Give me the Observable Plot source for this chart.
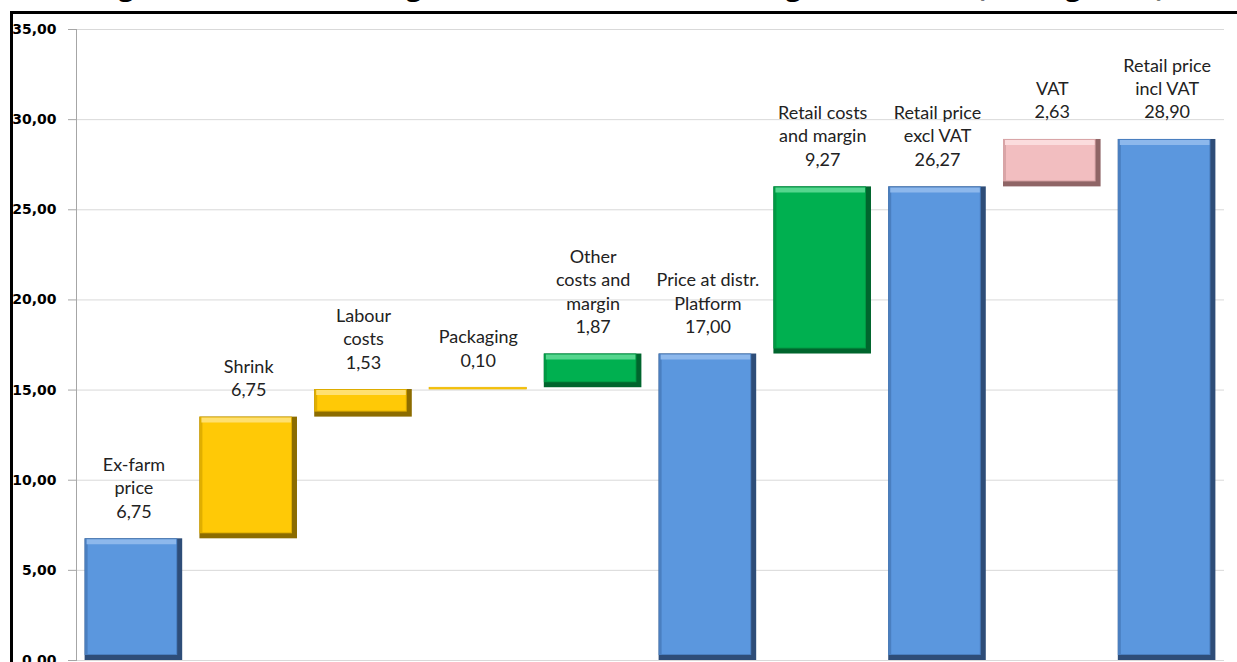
<!DOCTYPE html>
<html>
<head>
<meta charset="utf-8">
<script src="https://cdn.jsdelivr.net/npm/d3@7"></script>
<script src="https://cdn.jsdelivr.net/npm/@observablehq/plot@0.6"></script>
<style>
  html, body { margin: 0; padding: 0; background: #fff; overflow: hidden; }
  body { width: 1237px; height: 662px; position: relative; }
  #title { position: absolute; left: 0; width: 1237px; text-align: center; white-space: nowrap;
           font-family: "Open Sans", sans-serif; font-weight: bold; color: #000; }
  #frame { position: absolute; left: 10px; top: 11px; width: 1230px; height: 660px;
           border-top: 3px solid #000; border-left: 3px solid #000; overflow: hidden; background: #fff; }
  #chart { position: absolute; left: -13px; top: -14px; }
  g[aria-label="y-axis tick label"] text { font-family: "DejaVu Sans", sans-serif; font-weight: bold; font-size: 14px; fill: #000; }
</style>
</head>
<body>
<div id="title">Figure 4: Costs and margins from the farm to the large scale retail (EUR/kg, 2013)</div>
<div id="frame"><div id="chart"></div></div>
<script>
// ---- data ----
const categories = ["Ex-farm price", "Shrink", "Labour costs", "Packaging", "Other costs and margin",
  "Price at distr. Platform", "Retail costs and margin", "Retail price excl VAT", "VAT", "Retail price incl VAT"];
const labelLines = [["Ex-farm", "price"], ["Shrink"], ["Labour", "costs"], ["Packaging"], ["Other", "costs and", "margin"],
  ["Price at distr.", "Platform"], ["Retail costs", "and margin"], ["Retail price", "excl VAT"], ["VAT"], ["Retail price", "incl VAT"]];
const values = [6.75, 6.75, 1.53, 0.10, 1.87, 17.00, 9.27, 26.27, 2.63, 28.90];
const kinds = ["total", "cost", "cost", "cost", "margin", "total", "margin", "total", "tax", "total"];
const yTicks = [0, 5, 10, 15, 20, 25, 30, 35];

const palette = {
  total:  {main: "#5B97DE", light: "#8DB8EC", dark: "#2E4D78", edge: "#4A7FC0"},
  cost:   {main: "#FFC906", light: "#FFE070", dark: "#8C6C00", edge: "#E0AE00"},
  margin: {main: "#00B050", light: "#55D68E", dark: "#00652D", edge: "#009944"},
  tax:    {main: "#F2BEC0", light: "#FBDCDD", dark: "#8F6566", edge: "#D9A5A7"}
};

// waterfall table
let running = 0;
const data = categories.map((c, i) => {
  const v = values[i];
  let start, end;
  if (kinds[i] === "total") { start = 0; end = v; running = v; }
  else { start = running; end = running + v; running = end; }
  return {category: c, lines: labelLines[i], value: v, kind: kinds[i], start, end};
});
const fmt = v => d3.format(".2f")(v).replace(".", ",");
const big = data.filter(d => d.end - d.start >= 0.5);
const tiny = data.filter(d => d.end - d.start < 0.5);

const chart = Plot.plot({
  width: 1237,
  height: 662,
  marginLeft: 76,
  marginRight: 13,
  marginTop: 29,
  marginBottom: 2,
  x: {domain: categories, paddingInner: 0.15, paddingOuter: 0.075, round: false, axis: null},
  y: {domain: [0, 35]},
  color: {type: "identity"},
  marks: [
    Plot.gridY(yTicks, {stroke: "#d9d9d9", strokeOpacity: 1}),
    Plot.frame({anchor: "left", stroke: "#a6a6a6"}),
    Plot.axisY(yTicks, {tickSize: 8, tickPadding: 12, stroke: "#a6a6a6", tickFormat: fmt}),
    Plot.barY(big, {x: "category", y1: "start", y2: "end", fill: d => palette[d.kind].dark}),
    Plot.barY(big, {x: "category", y1: "start", y2: "end", fill: d => palette[d.kind].edge,
      insetRight: 5, insetBottom: 5}),
    Plot.barY(big, {x: "category", y1: "start", y2: "end", fill: d => palette[d.kind].main,
      insetTop: 2, insetLeft: 3, insetRight: 6, insetBottom: 6}),
    Plot.tickY(big, {x: "category", y: "end", stroke: d => palette[d.kind].light, strokeWidth: 5,
      dy: 3, insetLeft: 2, insetRight: 6}),
    Plot.barY(tiny, {x: "category", y1: "start", y2: "end", fill: d => palette[d.kind].main,
      stroke: d => palette[d.kind].edge, strokeWidth: 0.6}),
    Plot.text(data, {x: "category", y: "end", text: d => [...d.lines, fmt(d.value)].join("\n"),
      lineAnchor: "bottom", dy: -21, lineHeight: 1.3, fontSize: 18, fill: "#222",
      fontFamily: "Lato, sans-serif"})
  ]
});
document.getElementById("chart").appendChild(chart);

// title: fit its width to the original span, baseline near the top edge (cut off as in the source)
const t = document.getElementById("title");
const span = document.createElement("span");
span.textContent = t.textContent;
t.textContent = "";
t.appendChild(span);
t.style.fontSize = "20px";
const sw = span.getBoundingClientRect().width;
const fs = 20 * 1070 / sw;
t.style.fontSize = fs + "px";
t.style.lineHeight = "1";
t.style.left = "12px";
t.style.top = (-fs * 0.95 - 2) + "px";
</script>
</body>
</html>
